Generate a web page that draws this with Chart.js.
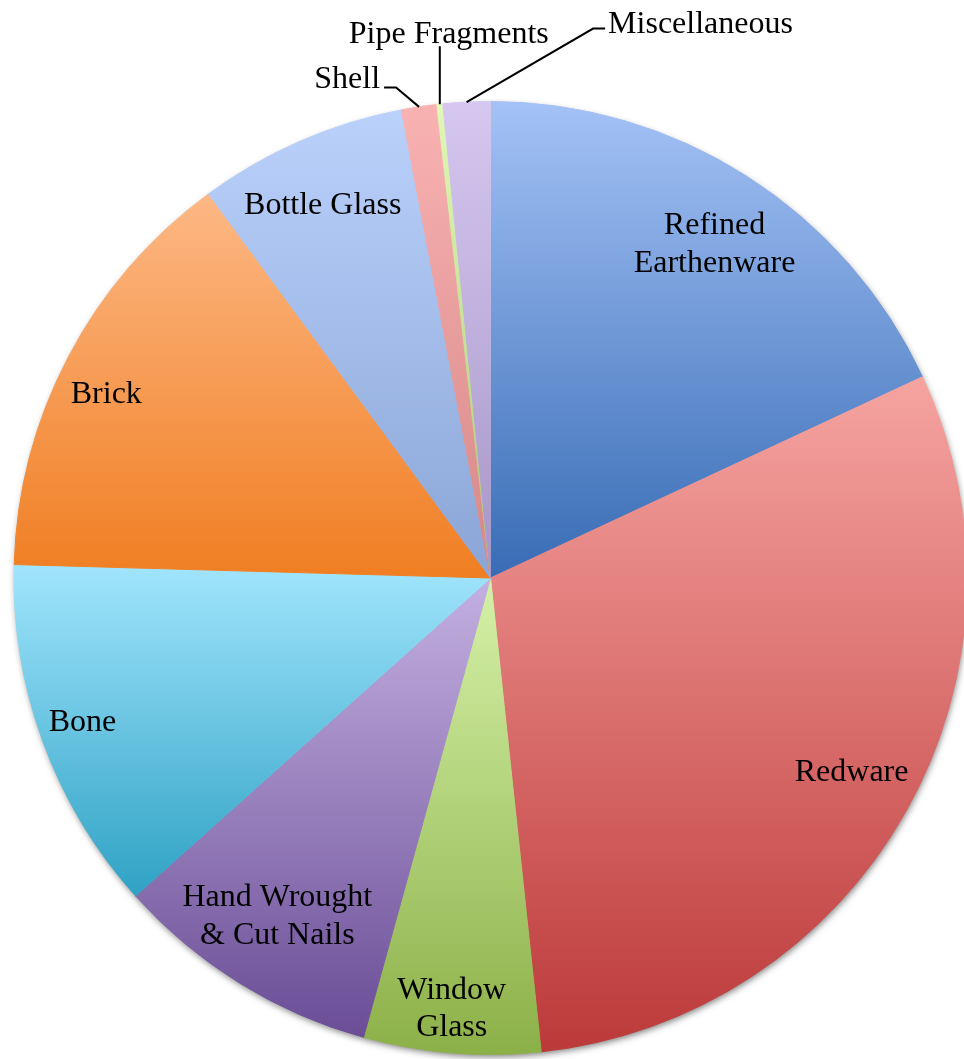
<!DOCTYPE html>
<html>
<head>
<meta charset="utf-8">
<script src="https://cdn.jsdelivr.net/npm/chart.js@4.4.1/dist/chart.umd.min.js"></script>
<style>
  html, body { margin: 0; padding: 0; background: #ffffff; overflow: hidden; }
  #wrap { width: 980px; height: 1059px; }
</style>
</head>
<body>
<div id="wrap"><canvas id="c" width="980" height="1059"></canvas></div>
<script>
// Artifact classes and their share of the assemblage (%)
const categories = ['Refined Earthenware', 'Redware', 'Window Glass', 'Hand Wrought & Cut Nails',
  'Bone', 'Brick', 'Bottle Glass', 'Shell', 'Pipe Fragments', 'Miscellaneous'];
const labelLines = [['Refined', 'Earthenware'], ['Redware'], ['Window', 'Glass'],
  ['Hand Wrought', '& Cut Nails'], ['Bone'], ['Brick'], ['Bottle Glass'],
  ['Shell'], ['Pipe Fragments'], ['Miscellaneous']];
const percentages = [18.1, 30.3, 6.0, 9.1, 12.1, 14.5, 7.1, 1.2, 0.2, 1.6];

// Gradient stops for each slice (top -> bottom)
const lightColors = ['#a4c2f6', '#f6a4a1', '#d5f1a8', '#c4b0e1', '#a1e5fd',
  '#fdb885', '#bad1fb', '#f9b2b2', '#e1f8b6', '#d6c7f0'];
const darkColors = ['#386cb5', '#bc3939', '#8cb048', '#6a4d96', '#2fa2c4',
  '#f07e22', '#8aa5d6', '#d68787', '#a9ca74', '#a596c8'];

// Label placement: inside labels sit along the slice bisector
// (r = fraction of the radius, da = angular nudge in degrees);
// outside labels use a leader line with an elbow and a short tail.
const labelPlacement = [
  { r: 0.847, da: 1.2 },
  { r: 0.858, da: -1.5 },
  { r: 0.903, da: 0.5 },
  { r: 0.835, da: 0.6 },
  { r: 0.907, da: 0.9 },
  { r: 0.896, da: -1.8 },
  { r: 0.861, da: -0.6 },
  { out: true, elbow: [-23, -19.5], tail: -12, text: [-4, -8], align: 'right' },
  { out: true, elbow: [0, -58], tail: 0, text: [9, -12], align: 'center' },
  { out: true, elbow: [126.5, -73.5], tail: 12, text: [3, -4], align: 'left' }
];

const FONT = '32px "Liberation Serif", "Times New Roman", serif';
const LINE_HEIGHT = 37.5;
const TEXT_DROP = 2.5;

function sliceGradient(context) {
  const chart = context.chart;
  const i = context.dataIndex;
  const area = chart.chartArea;
  if (!area || i === undefined) return lightColors[i] || '#cccccc';
  const cx = (area.left + area.right) / 2;
  const cy = (area.top + area.bottom) / 2;
  const R = Math.min(area.width, area.height) / 2;
  const total = percentages.reduce((a, b) => a + b, 0);
  let before = 0;
  for (let k = 0; k < i; k++) before += percentages[k];
  const a0 = -Math.PI / 2 + before / total * 2 * Math.PI;
  const a1 = a0 + percentages[i] / total * 2 * Math.PI;
  const ys = [cy, cy + R * Math.sin(a0), cy + R * Math.sin(a1)];
  if (a0 <= Math.PI / 2 && a1 >= Math.PI / 2) ys.push(cy + R);
  if (a0 <= -Math.PI / 2 + 1e-9 || a1 >= 3 * Math.PI / 2 - 1e-9) ys.push(cy - R);
  const g = chart.ctx.createLinearGradient(0, Math.min(...ys), 0, Math.max(...ys));
  g.addColorStop(0, lightColors[i]);
  g.addColorStop(1, darkColors[i]);
  return g;
}

// Soft drop shadow under the whole pie
const pieShadow = {
  id: 'pieShadow',
  beforeDatasetsDraw(chart) {
    const arc = chart.getDatasetMeta(0).data[0];
    if (!arc) return;
    const { x, y, outerRadius } = arc.getProps(['x', 'y', 'outerRadius'], true);
    const ctx = chart.ctx;
    ctx.save();
    ctx.shadowColor = 'rgba(0,0,0,0.55)';
    ctx.shadowBlur = 7;
    ctx.shadowOffsetX = 1;
    ctx.shadowOffsetY = 3;
    ctx.beginPath();
    ctx.arc(x, y, outerRadius - 1, 0, Math.PI * 2);
    ctx.fillStyle = '#ffffff';
    ctx.fill();
    ctx.restore();
  }
};

// Category labels, with leader lines for the thin slices
const sliceLabels = {
  id: 'sliceLabels',
  afterDatasetsDraw(chart) {
    const ctx = chart.ctx;
    const meta = chart.getDatasetMeta(0);
    ctx.save();
    ctx.font = FONT;
    ctx.fillStyle = '#000000';
    ctx.strokeStyle = '#000000';
    ctx.lineWidth = 2;
    ctx.textBaseline = 'middle';
    meta.data.forEach((arc, i) => {
      const p = arc.getProps(['x', 'y', 'startAngle', 'endAngle', 'outerRadius'], true);
      const mid = (p.startAngle + p.endAngle) / 2;
      const place = labelPlacement[i];
      const lines = labelLines[i];
      if (!place.out) {
        const a = mid + place.da * Math.PI / 180;
        const tx = p.x + Math.cos(a) * p.outerRadius * place.r;
        const ty = p.y + Math.sin(a) * p.outerRadius * place.r + TEXT_DROP;
        ctx.textAlign = 'center';
        lines.forEach((line, k) => {
          ctx.fillText(line, tx, ty + (k - (lines.length - 1) / 2) * LINE_HEIGHT);
        });
      } else {
        const ex = p.x + Math.cos(mid) * p.outerRadius;
        const ey = p.y + Math.sin(mid) * p.outerRadius;
        const bx = ex + place.elbow[0];
        const by = ey + place.elbow[1];
        const tx = bx + place.tail;
        ctx.beginPath();
        ctx.moveTo(ex, ey);
        ctx.lineTo(bx, by);
        if (place.tail) ctx.lineTo(tx, by);
        ctx.stroke();
        ctx.textAlign = place.align;
        ctx.fillText(lines[0], tx + place.text[0], by + place.text[1]);
      }
    });
    ctx.restore();
  }
};

new Chart(document.getElementById('c'), {
  type: 'pie',
  data: {
    labels: categories,
    datasets: [{
      data: percentages,
      backgroundColor: sliceGradient,
      borderColor: sliceGradient,
      borderWidth: 1
    }]
  },
  options: {
    responsive: false,
    animation: false,
    events: [],
    layout: { padding: { left: 13.5, right: 12.5, top: 101, bottom: 4 } },
    plugins: {
      legend: { display: false },
      tooltip: { enabled: false }
    }
  },
  plugins: [pieShadow, sliceLabels]
});
</script>
</body>
</html>
